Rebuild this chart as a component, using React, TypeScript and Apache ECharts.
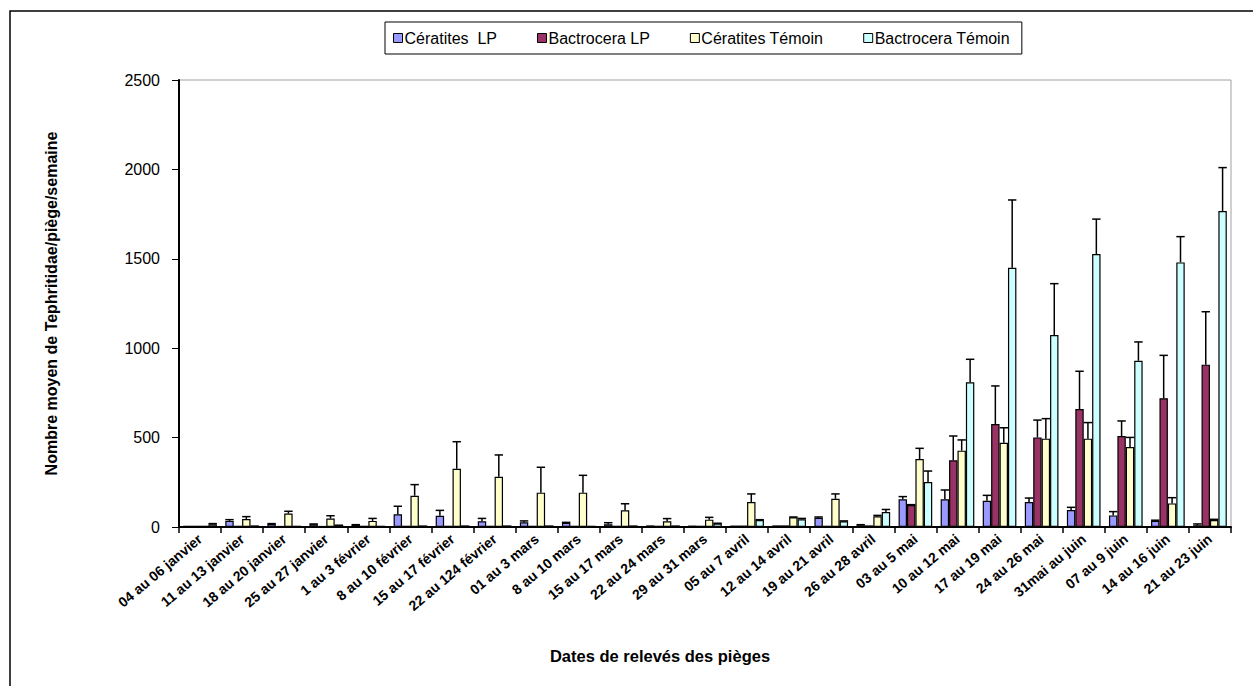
import React, { useEffect, useRef } from "react";
import * as echarts from "echarts";

const categories = [
  "04 au 06 janvier", "11 au 13 janvier", "18 au 20 janvier", "25 au 27 janvier",
  "1 au 3 février", "8 au 10 février", "15 au 17 février", "22 au 124 février",
  "01 au 3 mars", "8 au 10 mars", "15 au 17 mars", "22 au 24 mars", "29 au 31 mars",
  "05 au 7 avril", "12 au 14 avril", "19 au 21 avril", "26 au 28 avril",
  "03 au 5 mai", "10 au 12 mai", "17 au 19 mai", "24 au 26 mai", "31mai au juin",
  "07 au 9 juin", "14 au 16 juin", "21 au 23 juin",
];

const seriesNames = ["Cératites  LP", "Bactrocera LP", "Cératites Témoin", "Bactrocera Témoin"];

const ceratitesLP = [3, 34, 17, 15, 11, 71, 63, 32, 26, 24, 15, 5, 4, 4, 5, 52, 10, 155, 155, 147, 140, 95, 65, 34, 10];
const ceratitesLPTop = [3, 41, 19, 17, 13, 116, 93, 48, 34, 26, 24, 5, 4, 4, 5, 56, 13, 170, 207, 177, 162, 110, 86, 38, 17];

const bactroceraLP = [3, 3, 2, 2, 3, 3, 3, 3, 3, 3, 3, 3, 3, 4, 5, 3, 5, 123, 373, 576, 501, 660, 509, 720, 908];
const bactroceraLPTop = [3, 3, 2, 2, 3, 3, 3, 3, 3, 3, 3, 3, 3, 4, 5, 3, 5, 125, 509, 789, 598, 871, 593, 960, 1204];

const ceratitesT = [3, 45, 75, 47, 34, 175, 326, 281, 192, 192, 93, 32, 41, 140, 54, 158, 60, 380, 427, 471, 494, 494, 447, 132, 39];
const ceratitesTTop = [3, 58, 88, 63, 48, 237, 477, 403, 334, 289, 130, 47, 54, 185, 56, 185, 65, 440, 487, 555, 606, 584, 501, 164, 43];

const bactroceraT = [15, 5, 3, 10, 3, 5, 5, 5, 5, 3, 5, 5, 19, 39, 43, 32, 84, 252, 809, 1450, 1074, 1527, 930, 1480, 1767];
const bactroceraTTop = [19, 5, 3, 10, 3, 5, 5, 5, 5, 3, 5, 5, 21, 41, 48, 34, 98, 313, 938, 1829, 1361, 1722, 1035, 1624, 2010];

const yTicks = [0, 500, 1000, 1500, 2000, 2500];

const colors = ["#9999ff", "#993366", "#ffffcc", "#ccffff"];
const FONT = "Liberation Sans, Arial, sans-serif";

export default function App() {
  const ref = useRef<HTMLDivElement>(null);

  useEffect(() => {
    document.body.style.margin = "0";
    if (!ref.current) return;
    const chart = echarts.init(ref.current, undefined, { renderer: "svg" });

    const values = [ceratitesLP, bactroceraLP, ceratitesT, bactroceraT];
    const tops = [ceratitesLPTop, bactroceraLPTop, ceratitesTTop, bactroceraTTop];

    const barSeries = values.map((v, k) => ({
      name: seriesNames[k],
      type: "bar",
      data: v,
      barGap: "0%",
      barCategoryGap: "20%",
      itemStyle: { color: colors[k], borderColor: "#000", borderWidth: 1.2 },
      z: 2,
    }));

    const errSeries = values.map((v, k) => ({
      name: "err" + k,
      type: "custom",
      z: 5,
      silent: true,
      encode: { x: 0, y: [1, 2] },
      data: v.map((val, i) => [i, val, tops[k][i]]),
      renderItem: (params: any, api: any) => {
        const idx = api.value(0);
        const base = api.coord([idx, api.value(1)]);
        const top = api.coord([idx, api.value(2)]);
        const cw = api.size([1, 0])[0];
        const cx = base[0] + (-0.3 + 0.2 * k) * cw;
        const half = 0.1 * cw;
        const style = { stroke: "#000", lineWidth: 1.5 };
        return {
          type: "group",
          children: [
            { type: "line", shape: { x1: cx, y1: base[1], x2: cx, y2: top[1] }, style },
            { type: "line", shape: { x1: cx - half, y1: top[1], x2: cx + half, y2: top[1] }, style },
          ],
        };
      },
    }));

    chart.setOption({
      animation: false,
      backgroundColor: "#fff",
      textStyle: { fontFamily: FONT },
      grid: { left: 179, right: 22, top: 80, bottom: 159, show: true, borderColor: "#a0a0a0", borderWidth: 1 },
      legend: {
        data: seriesNames,
        left: 385,
        top: 22,
        padding: [8, 12, 8, 8],
        itemGap: 40,
        itemWidth: 9,
        itemHeight: 9,
        icon: "rect",
        borderColor: "#000",
        borderWidth: 1,
        textStyle: { fontFamily: FONT, fontSize: 16, color: "#000", padding: [0, 0, 0, -3] },
        itemStyle: { borderColor: "#000", borderWidth: 1 },
      },
      xAxis: {
        type: "category",
        data: categories,
        axisLine: { lineStyle: { color: "#000", width: 2 } },
        axisTick: { show: true, length: 6, lineStyle: { color: "#000", width: 1.5 } },
        axisLabel: {
          interval: 0,
          rotate: 40,
          margin: 10,
          fontFamily: FONT,
          fontSize: 14,
          fontWeight: "bold",
          color: "#000",
        },
      },
      yAxis: {
        type: "value",
        min: 0,
        max: 2500,
        interval: 500,
        name: "Nombre moyen de Tephritidae/piège/semaine",
        nameLocation: "middle",
        nameGap: 120,
        nameTextStyle: { fontFamily: FONT, fontSize: 16, fontWeight: "bold", color: "#000" },
        axisLine: { show: true, lineStyle: { color: "#000", width: 2 } },
        axisTick: { show: true, length: 7, lineStyle: { color: "#000", width: 1 } },
        splitLine: { show: false },
        axisLabel: {
          margin: 19,
          fontFamily: FONT,
          fontSize: 16,
          color: "#000",
          formatter: (v: number) => (yTicks.includes(v) ? String(v) : ""),
        },
      },
      graphic: [
        {
          type: "rect",
          shape: { x: 10, y: 11, width: 1400, height: 800 },
          style: { fill: "none", stroke: "#000", lineWidth: 1.5 },
          silent: true,
          z: -1,
        },
        {
          type: "text",
          x: 660,
          y: 656,
          style: {
            text: "Dates de relevés des pièges",
            fontFamily: FONT,
            fontSize: 16.5,
            fontWeight: "bold",
            fill: "#000",
            align: "center",
            verticalAlign: "middle",
          },
        },
      ],
      series: [...barSeries, ...errSeries],
    });

    return () => chart.dispose();
  }, []);

  return <div ref={ref} style={{ width: 1253, height: 686 }} />;
}
